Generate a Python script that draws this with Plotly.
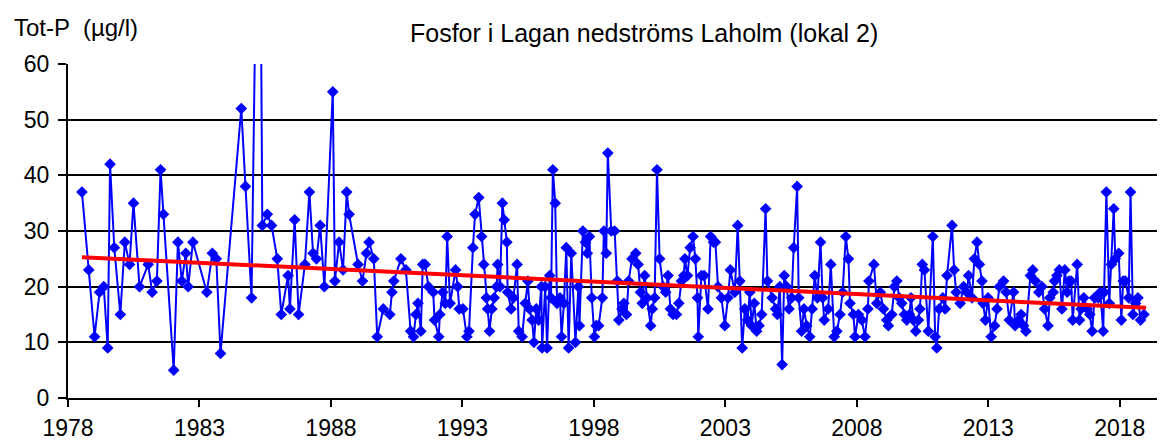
import plotly.graph_objects as go

# Sampling dates (decimal years) and total phosphorus (µg/l)
years = [
    1978.53, 1978.79, 1979.01, 1979.20, 1979.36, 1979.51, 1979.60, 1979.76, 1979.99, 1980.16,
    1980.34, 1980.49, 1980.72, 1981.05, 1981.20, 1981.38, 1981.52, 1981.63, 1982.02, 1982.18,
    1982.33, 1982.48, 1982.57, 1982.75, 1983.28, 1983.49, 1983.64, 1983.80, 1984.59, 1984.75,
    1984.98, 1985.27, 1985.39, 1985.58, 1985.74, 1985.96, 1986.11, 1986.37, 1986.44, 1986.62,
    1986.77, 1987.01, 1987.18, 1987.32, 1987.45, 1987.59, 1987.75, 1988.07, 1988.15, 1988.31,
    1988.46, 1988.60, 1988.69, 1989.03, 1989.20, 1989.35, 1989.45, 1989.63, 1989.76, 1989.99,
    1990.24, 1990.32, 1990.39, 1990.66, 1990.85, 1991.03, 1991.14, 1991.23, 1991.31, 1991.42,
    1991.49, 1991.58, 1991.71, 1991.89, 1991.94, 1992.10, 1992.14, 1992.25, 1992.35, 1992.42,
    1992.53, 1992.74, 1992.82, 1992.88, 1993.02, 1993.17, 1993.25, 1993.40, 1993.48, 1993.62,
    1993.73, 1993.81, 1993.91, 1993.96, 1994.03, 1994.12, 1994.21, 1994.30, 1994.34, 1994.43,
    1994.52, 1994.59, 1994.69, 1994.72, 1994.85, 1994.94, 1995.08, 1995.14, 1995.27, 1995.39,
    1995.49, 1995.55, 1995.65, 1995.72, 1995.81, 1995.90, 1996.00, 1996.03, 1996.15, 1996.22,
    1996.32, 1996.37, 1996.44, 1996.53, 1996.60, 1996.71, 1996.77, 1996.86, 1996.95, 1997.04,
    1997.14, 1997.30, 1997.41, 1997.45, 1997.58, 1997.68, 1997.75, 1997.83, 1997.92, 1998.02,
    1998.09, 1998.18, 1998.32, 1998.38, 1998.47, 1998.53, 1998.66, 1998.79, 1998.89, 1998.95,
    1999.07, 1999.14, 1999.24, 1999.32, 1999.45, 1999.59, 1999.68, 1999.77, 1999.84, 1999.93,
    2000.02, 2000.16, 2000.22, 2000.31, 2000.40, 2000.50, 2000.63, 2000.73, 2000.82, 2000.91,
    2001.01, 2001.14, 2001.23, 2001.33, 2001.42, 2001.46, 2001.56, 2001.66, 2001.77, 2001.86,
    2001.94, 2001.97, 2002.09, 2002.19, 2002.34, 2002.44, 2002.55, 2002.62, 2002.72, 2002.85,
    2002.98, 2003.10, 2003.19, 2003.36, 2003.47, 2003.55, 2003.64, 2003.74, 2003.84, 2003.93,
    2004.00, 2004.10, 2004.19, 2004.28, 2004.38, 2004.53, 2004.60, 2004.78, 2004.91, 2004.98,
    2005.07, 2005.16, 2005.24, 2005.33, 2005.42, 2005.52, 2005.60, 2005.73, 2005.79, 2005.90,
    2005.99, 2006.09, 2006.21, 2006.30, 2006.40, 2006.50, 2006.62, 2006.70, 2006.76, 2006.91,
    2007.01, 2007.14, 2007.24, 2007.36, 2007.46, 2007.58, 2007.68, 2007.74, 2007.87, 2007.93,
    2008.06, 2008.19, 2008.31, 2008.42, 2008.46, 2008.65, 2008.76, 2008.89, 2009.01, 2009.14,
    2009.20, 2009.33, 2009.43, 2009.52, 2009.61, 2009.71, 2009.81, 2009.90, 2010.00, 2010.06,
    2010.15, 2010.24, 2010.34, 2010.40, 2010.49, 2010.57, 2010.72, 2010.89, 2010.98, 2011.04,
    2011.13, 2011.27, 2011.36, 2011.43, 2011.62, 2011.70, 2011.78, 2011.93, 2012.06, 2012.18,
    2012.25, 2012.38, 2012.47, 2012.57, 2012.66, 2012.76, 2012.80, 2012.89, 2012.99, 2013.11,
    2013.24, 2013.33, 2013.42, 2013.58, 2013.68, 2013.80, 2013.96, 2014.02, 2014.15, 2014.25,
    2014.34, 2014.43, 2014.60, 2014.69, 2014.79, 2014.92, 2015.04, 2015.14, 2015.27, 2015.34,
    2015.47, 2015.52, 2015.61, 2015.70, 2015.80, 2015.91, 2016.00, 2016.06, 2016.15, 2016.21,
    2016.38, 2016.47, 2016.53, 2016.63, 2016.76, 2016.86, 2016.95, 2017.04, 2017.18, 2017.26,
    2017.37, 2017.41, 2017.49, 2017.60, 2017.68, 2017.77, 2017.83, 2017.96, 2018.06, 2018.13,
    2018.21, 2018.34, 2018.41, 2018.50, 2018.60, 2018.69, 2018.79, 2018.92,
]

tot_p = [
    37, 23, 11, 19, 20, 9, 42, 27, 15, 28,
    24, 35, 20, 24, 19, 21, 41, 33, 5, 28,
    21, 26, 20, 28, 19, 26, 25, 8, 52, 38,
    18, 120, 31, 33, 31, 25, 15, 22, 16, 32,
    15, 24, 37, 26, 25, 31, 20, 55, 21, 28,
    23, 37, 33, 24, 21, 26, 28, 25, 11, 16,
    15, 19, 21, 25, 23, 12, 11, 15, 17, 12,
    24, 24, 20, 19, 14, 11, 15, 19, 17, 29,
    17, 23, 20, 16, 16, 11, 12, 27, 33, 36,
    29, 24, 18, 16, 12, 16, 18, 20, 24, 20,
    35, 32, 28, 19, 16, 18, 24, 12, 11, 17,
    21, 16, 14, 10, 16, 14, 20, 9, 20, 9,
    22, 18, 41, 35, 17, 18, 11, 17, 27, 9,
    26, 10, 20, 13, 30, 28, 26, 29, 18, 11,
    13, 13, 18, 30, 26, 44, 30, 30, 21, 14,
    16, 17, 15, 21, 25, 26, 24, 19, 17, 22,
    18, 13, 16, 18, 41, 25, 20, 19, 22, 16,
    15, 15, 17, 21, 22, 25, 22, 27, 29, 25,
    18, 11, 22, 22, 16, 29, 28, 28, 20, 18,
    13, 18, 23, 19, 31, 21, 9, 16, 14, 19,
    13, 17, 12, 13, 15, 34, 21, 18, 16, 15,
    20, 6, 22, 20, 16, 18, 27, 38, 18, 12,
    16, 13, 11, 16, 22, 18, 28, 18, 14, 16,
    24, 11, 12, 15, 19, 29, 25, 17, 15, 11,
    15, 14, 11, 16, 21, 24, 17, 19, 16, 14,
    13, 15, 20, 21, 18, 17, 15, 14, 15, 18,
    14, 12, 14, 16, 24, 23, 12, 29, 11, 9,
    16, 18, 16, 22, 31, 23, 19, 17, 20, 19,
    22, 18, 25, 28, 24, 21, 17, 14, 18, 11,
    13, 16, 20, 21, 19, 14, 19, 13, 14, 15,
    13, 12, 22, 23, 21, 19, 20, 16, 13, 18,
    19, 21, 22, 23, 16, 23, 19, 21, 21, 14,
    24, 14, 16, 18, 16, 15, 12, 18, 18, 19,
    12, 19, 37, 17, 24, 34, 25, 26, 14, 21,
    21, 18, 37, 15, 17, 18, 14, 15,
]

# Linear trend line end points
trend_years = [1978.53, 2019.0]
trend_values = [25.3, 16.2]

x_tick_vals = [1978, 1983, 1988, 1993, 1998, 2003, 2008, 2013, 2018]
x_tick_text = [str(v) for v in x_tick_vals]
y_tick_vals = [0, 10, 20, 30, 40, 50, 60]

FONT = "Liberation Sans, Arial, sans-serif"

# The page body has an 8 px margin, so the figure starts at (8, 8)
OFF = 8
W, H = 1165 - OFF, 441 - OFF
ML, MT, MB = 68 - OFF, 64 - OFF, 43
plot_w = W - ML
plot_h = H - MT - MB
plot_left_page = ML + OFF
plot_bottom_page = OFF + H - MB

fig = go.Figure()
fig.add_trace(go.Scatter(
    x=years, y=tot_p, mode="lines+markers",
    line=dict(color="#0000FF", width=2),
    marker=dict(symbol="diamond", size=9, color="#0000FF"),
    showlegend=False, cliponaxis=True,
))
fig.add_trace(go.Scatter(
    x=trend_years, y=trend_values, mode="lines",
    line=dict(color="#FF0000", width=4),
    showlegend=False,
))

fig.update_layout(
    width=W, height=H,
    margin=dict(l=ML, r=0, t=MT, b=MB, autoexpand=False),
    paper_bgcolor="white", plot_bgcolor="white",
    font=dict(family=FONT, color="black", size=23),
    xaxis=dict(
        range=[1978, 2019.72], tickmode="array",
        tickvals=x_tick_vals, ticktext=x_tick_text,
        showgrid=False, zeroline=False, automargin=False,
        showline=True, linecolor="black", linewidth=2,
        ticks="outside", ticklen=7, tickwidth=2, tickcolor="black",
        ticklabelstandoff=1,
        tickfont=dict(family=FONT, size=23, color="black"),
    ),
    yaxis=dict(
        range=[0, 60], tickmode="array", tickvals=y_tick_vals,
        showgrid=True, gridcolor="black", gridwidth=1.5,
        zeroline=False, automargin=False,
        showline=True, linecolor="black", linewidth=2,
        ticks="outside", ticklen=8, tickwidth=2, tickcolor="black",
        ticklabelstandoff=4,
        tickfont=dict(family=FONT, size=23, color="black"),
    ),
    annotations=[
        dict(text="Tot-P  (µg/l)",
             x=(12 - plot_left_page) / plot_w, y=(plot_bottom_page - 27) / plot_h,
             xref="paper", yref="paper", xanchor="left", yanchor="middle",
             showarrow=False, font=dict(family=FONT, size=24, color="black")),
        dict(text="Fosfor i Lagan nedströms Laholm (lokal 2)",
             x=(644 - plot_left_page) / plot_w, y=(plot_bottom_page - 33) / plot_h,
             xref="paper", yref="paper", xanchor="center", yanchor="middle",
             showarrow=False, font=dict(family=FONT, size=25, color="black")),
    ],
)

fig.write_html("out.html")
